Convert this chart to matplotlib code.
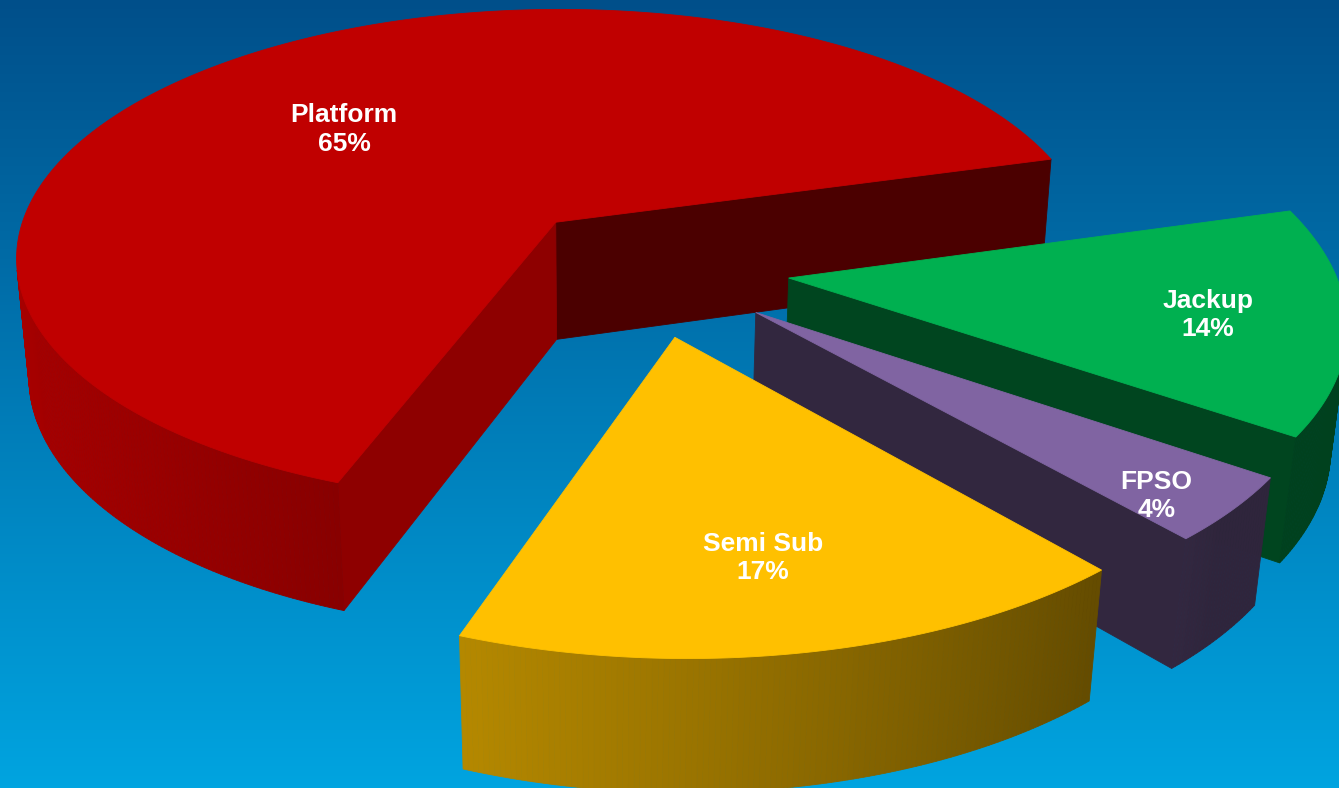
import numpy as np
import matplotlib
matplotlib.use("Agg")
import matplotlib.pyplot as plt
from matplotlib.patches import Polygon
from matplotlib.colors import to_rgb

# ── Data ───────────────────────────────────────────────────────────────────────
names = ["Platform", "Semi Sub", "FPSO", "Jackup"]
shares = [65, 17, 4, 14]
top_colors = ["#C00000", "#FFC000", "#8064A2", "#00B050"]
explode = [0.245, 0.271, 0.262, 0.264]   # radial offset, in pie radii
label_r = [0.585, 0.73, 0.885, 0.756]    # label distance from slice tip
label_da = [3.6, -0.5, -3.0, -1.2]       # label angle nudge from the bisector (deg)

# ── 3-D view (pie radius = 1) ──────────────────────────────────────────────────
W, H_PX = 1339, 788
START = 16.21                # first slice starts here, slices run counter-clockwise
THICK = 0.251
ELEV = np.radians(31.59)
SIN_E, COS_E = np.sin(ELEV), np.cos(ELEV)
ROLL = np.radians(-0.23)
DIST = 6.326
FOCAL = 3314.6
LOOK = np.array([-0.042, 0.0, -0.235])
PX0, PY0 = 621.6, 492.8
CAM = LOOK + DIST * np.array([0.0, -COS_E, SIN_E])
UP = np.array([0.0, 0.0, THICK])


def project(p):
    p = np.atleast_2d(p) - LOOK
    up = p[:, 1] * SIN_E + p[:, 2] * COS_E
    depth = DIST + p[:, 1] * COS_E - p[:, 2] * SIN_E
    u = FOCAL * p[:, 0] / depth
    v = FOCAL * up / depth
    uu = u * np.cos(ROLL) - v * np.sin(ROLL)
    vv = u * np.sin(ROLL) + v * np.cos(ROLL)
    return np.column_stack([PX0 + uu, PY0 - vv])


def unit(deg):
    a = np.radians(deg)
    return np.array([np.cos(a), np.sin(a), 0.0])


def facing(point, normal):
    return np.dot(CAM - point, normal) > 0


def side_shade(phi):
    # outer wall lit from the left, darker towards the front-right
    return max(0.37, 0.555 + 0.31 * np.cos(np.radians(phi - 190)))


def face(ax, pts3, rgb, z):
    xy = project(np.array(pts3))
    ax.add_patch(Polygon(xy, closed=True, facecolor=rgb, edgecolor=rgb,
                         linewidth=0.6, zorder=z))


fig = plt.figure(figsize=(W / 100, H_PX / 100), dpi=100)
ax = fig.add_axes([0, 0, 1, 1])
ax.set_xlim(0, W)
ax.set_ylim(H_PX, 0)
ax.axis("off")

# background: dark blue at the top fading to light cyan at the bottom
t = np.linspace(0, 1, 256)[:, None]
bg_top = np.array([0, 79, 138]) / 255
bg_bot = np.array([0, 164, 224]) / 255
ax.imshow((bg_top + (bg_bot - bg_top) * t)[:, None, :], extent=(0, W, H_PX, 0),
          aspect="auto", zorder=0)

# slice angles and tips
edges = START + 360.0 * np.concatenate([[0], np.cumsum(shares)]) / sum(shares)
slices = []
for i in range(len(names)):
    a0, a1 = edges[i], edges[i + 1]
    mid = 0.5 * (a0 + a1)
    apex = explode[i] * unit(mid)
    far = (apex + 0.4 * unit(mid))[1]
    slices.append((far, i, a0, a1, mid, apex))

# paint far slices first
slices.sort(key=lambda s: -s[0])

z = 1
for _, i, a0, a1, mid, apex in slices:
    base = np.array(to_rgb(top_colors[i]))

    # flat cut faces
    for edge_a, normal_a, f in [(a0, a0 - 90, 0.39), (a1, a1 + 90, 0.74)]:
        d = unit(edge_a)
        if facing(apex + 0.5 * d + 0.5 * UP, unit(normal_a)):
            face(ax, [apex, apex + d, apex + d + UP, apex + UP], base * f, z)
    z += 1

    # curved outer wall, one thin quad per half degree
    angs = np.linspace(a0, a1, max(4, int((a1 - a0) * 2)))
    for b0, b1 in zip(angs[:-1], angs[1:]):
        bm = 0.5 * (b0 + b1)
        q0, q1 = apex + unit(b0), apex + unit(b1)
        if facing(apex + unit(bm) + 0.5 * UP, unit(bm)):
            face(ax, [q0, q1, q1 + UP, q0 + UP], base * side_shade(bm), z)
    z += 1

    # top face
    arc = [apex + unit(b) + UP for b in np.linspace(a0, a1, 200)]
    face(ax, [apex + UP] + arc, base, z)
    z += 1

    # label sitting on the top face
    lx, ly = project(apex + label_r[i] * unit(mid + label_da[i]) + UP)[0]
    ax.text(lx, ly, f"{names[i]}\n{shares[i]}%", ha="center", va="center",
            color="white", fontsize=19, fontweight="bold",
            family="Liberation Sans", linespacing=1.22, zorder=50)

fig.savefig("out.png", dpi=100)
